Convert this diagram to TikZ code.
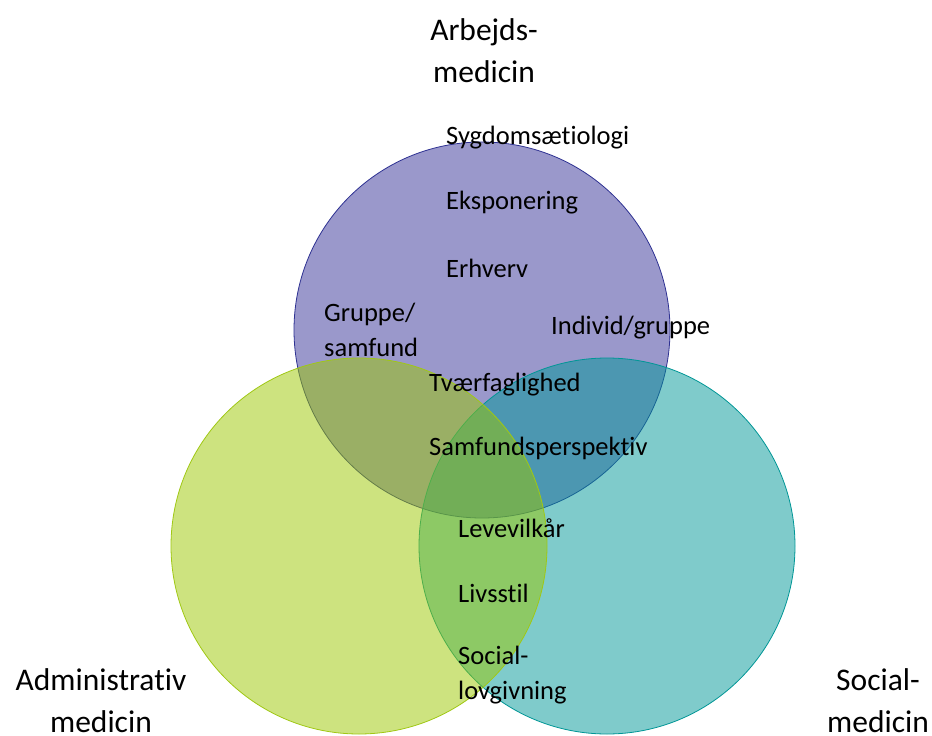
\documentclass[tikz,border=0pt]{standalone}
\usepackage{fontspec}
\setmainfont[Ligatures=NoCommon]{Carlito}
\definecolor{purpfill}{RGB}{53,49,151}
\definecolor{purpline}{RGB}{46,49,146}
\definecolor{tealfill}{RGB}{0,151,151}
\definecolor{tealline}{RGB}{0,150,150}
\definecolor{grnfill}{RGB}{155,199,0}
\definecolor{grnline}{RGB}{160,200,20}
\begin{document}
\begin{tikzpicture}[x=1pt,y=-1pt,
  venn/.style={circle, minimum size=376pt, inner sep=0pt, fill opacity=0.5, line width=0.8pt},
  inner/.style={font=\fontsize{26.5}{35}\selectfont, anchor=west, align=left, inner sep=0pt},
  title/.style={font=\fontsize{31.5}{42}\selectfont, align=center, inner sep=0pt}]
\useasboundingbox (0,0) rectangle (932,736);
\node[venn, draw=purpline, fill=purpfill] (arb) at (482,330) {};
\node[venn, draw=tealline, fill=tealfill] (soc) at (607,546) {};
\node[venn, draw=grnline, fill=grnfill] (adm) at (359,546) {};

\node[title] (tarb) at (484,51) {Arbejds-\\medicin};
\node[title] (tadm) at (101,701) {Administrativ\\medicin};
\node[title] (tsoc) at (878,701) {Social-\\medicin};

\node[inner] (t1) at (446,138) {Sygdomsætiologi};
\node[inner] (t2) at (446,203) {Eksponering};
\node[inner] (t3) at (446,268) {Erhverv};
\node[inner] (t4) at (324,330) {Gruppe/\\samfund};
\node[inner] (t5) at (551,328) {Individ/gruppe};
\node[inner] (t6) at (429,385) {Tværfaglighed};
\node[inner] (t7) at (429,448) {Samfundsperspektiv};
\node[inner] (t8) at (458,528) {Levevilkår};
\node[inner] (t9) at (458,593) {Livsstil};
\node[inner] (t10) at (458,675) {Social-\\lovgivning};
\end{tikzpicture}
\end{document}
